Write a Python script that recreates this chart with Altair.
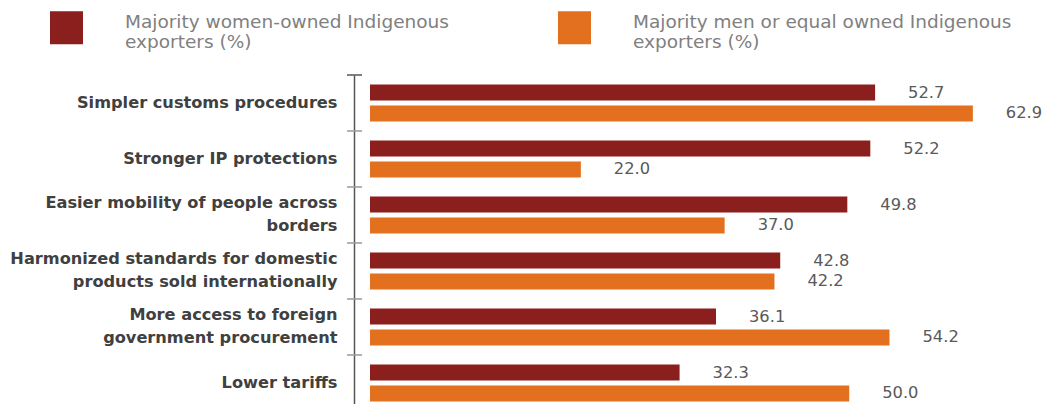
import altair as alt
import pandas as pd

categories = [
    "Simpler customs procedures",
    "Stronger IP protections",
    "Easier mobility of people across|borders",
    "Harmonized standards for domestic|products sold internationally",
    "More access to foreign|government procurement",
    "Lower tariffs",
]
series = [
    "Majority women-owned Indigenous|exporters (%)",
    "Majority men or equal owned Indigenous|exporters (%)",
]
women = [52.7, 52.2, 49.8, 42.8, 36.1, 32.3]
men = [62.9, 22.0, 37.0, 42.2, 54.2, 50.0]
colors = ["#8B1F1D", "#E2701F"]

rows = []
for c, w, m in zip(categories, women, men):
    rows.append({"category": c, "series": series[0], "value": w})
    rows.append({"category": c, "series": series[1], "value": m})
df = pd.DataFrame(rows)
cat_df = pd.DataFrame({"category": categories})

FONT = "DejaVu Sans"

y_enc = alt.Y(
    "category:N",
    sort=categories,
    scale=alt.Scale(range=[0, 336], paddingInner=0, paddingOuter=0),
    axis=alt.Axis(
        title=None, ticks=False, domain=True, domainColor="#555555", domainWidth=1.5,
        offset=16, labelPadding=17, labelFont=FONT, labelFontWeight="bold",
        labelFontSize=16.2, labelColor="#404040",
        labelExpr="split(datum.label, '|')", labelLineHeight=23, labelLimit=400,
        labelOffset={"condition": {"test": "indexof(datum.label, '|') >= 0", "value": -12},
                     "value": 0},
    ),
)
x_enc = alt.X("value:Q", scale=alt.Scale(domain=[0, 65]), axis=None)
yoff = alt.YOffset("series:N", sort=series,
                   scale=alt.Scale(paddingInner=0.238, paddingOuter=0.453))

base = alt.Chart(df).encode(y=y_enc, x=x_enc, yOffset=yoff)

bars = base.mark_bar().encode(
    color=alt.Color(
        "series:N", sort=series,
        scale=alt.Scale(domain=series, range=colors),
        legend=alt.Legend(
            title=None, orient="none", legendX=-320, legendY=-64,
            direction="horizontal", symbolType="square", symbolSize=1089,
            symbolStrokeWidth=0, symbolOpacity=1, labelFont=FONT, labelFontSize=18.5,
            labelColor="#808080", labelOffset=42, labelLimit=600, columnPadding=109,
            labelBaseline="alphabetic",
            labelExpr="split(datum.label, '|')",
        ),
    )
)

texts = base.mark_text(
    align="left", baseline="middle", dx=33, font=FONT, fontSize=16.3, color="#595959"
).encode(text=alt.Text("value:Q", format=".1f"))

ticks = alt.Chart(cat_df).mark_rule(strokeWidth=1.5).encode(
    y=alt.Y("category:N", sort=categories, bandPosition=0),
    x=alt.value(-23),
    x2=alt.value(-8),
    color=alt.condition(alt.datum.category == categories[0],
                        alt.value("#555555"), alt.value("#9a9a9a")),
)

chart = (
    alt.layer(bars, texts, ticks)
    .properties(
        width=623, height=329,
        autosize=alt.AutoSizeParams(type="none"),
        padding={"left": 370, "top": 75, "right": 51, "bottom": 0},
        background="white",
    )
    .configure_view(stroke=None)
)

chart.save("out.html", embed_options={"renderer": "svg", "actions": False})
